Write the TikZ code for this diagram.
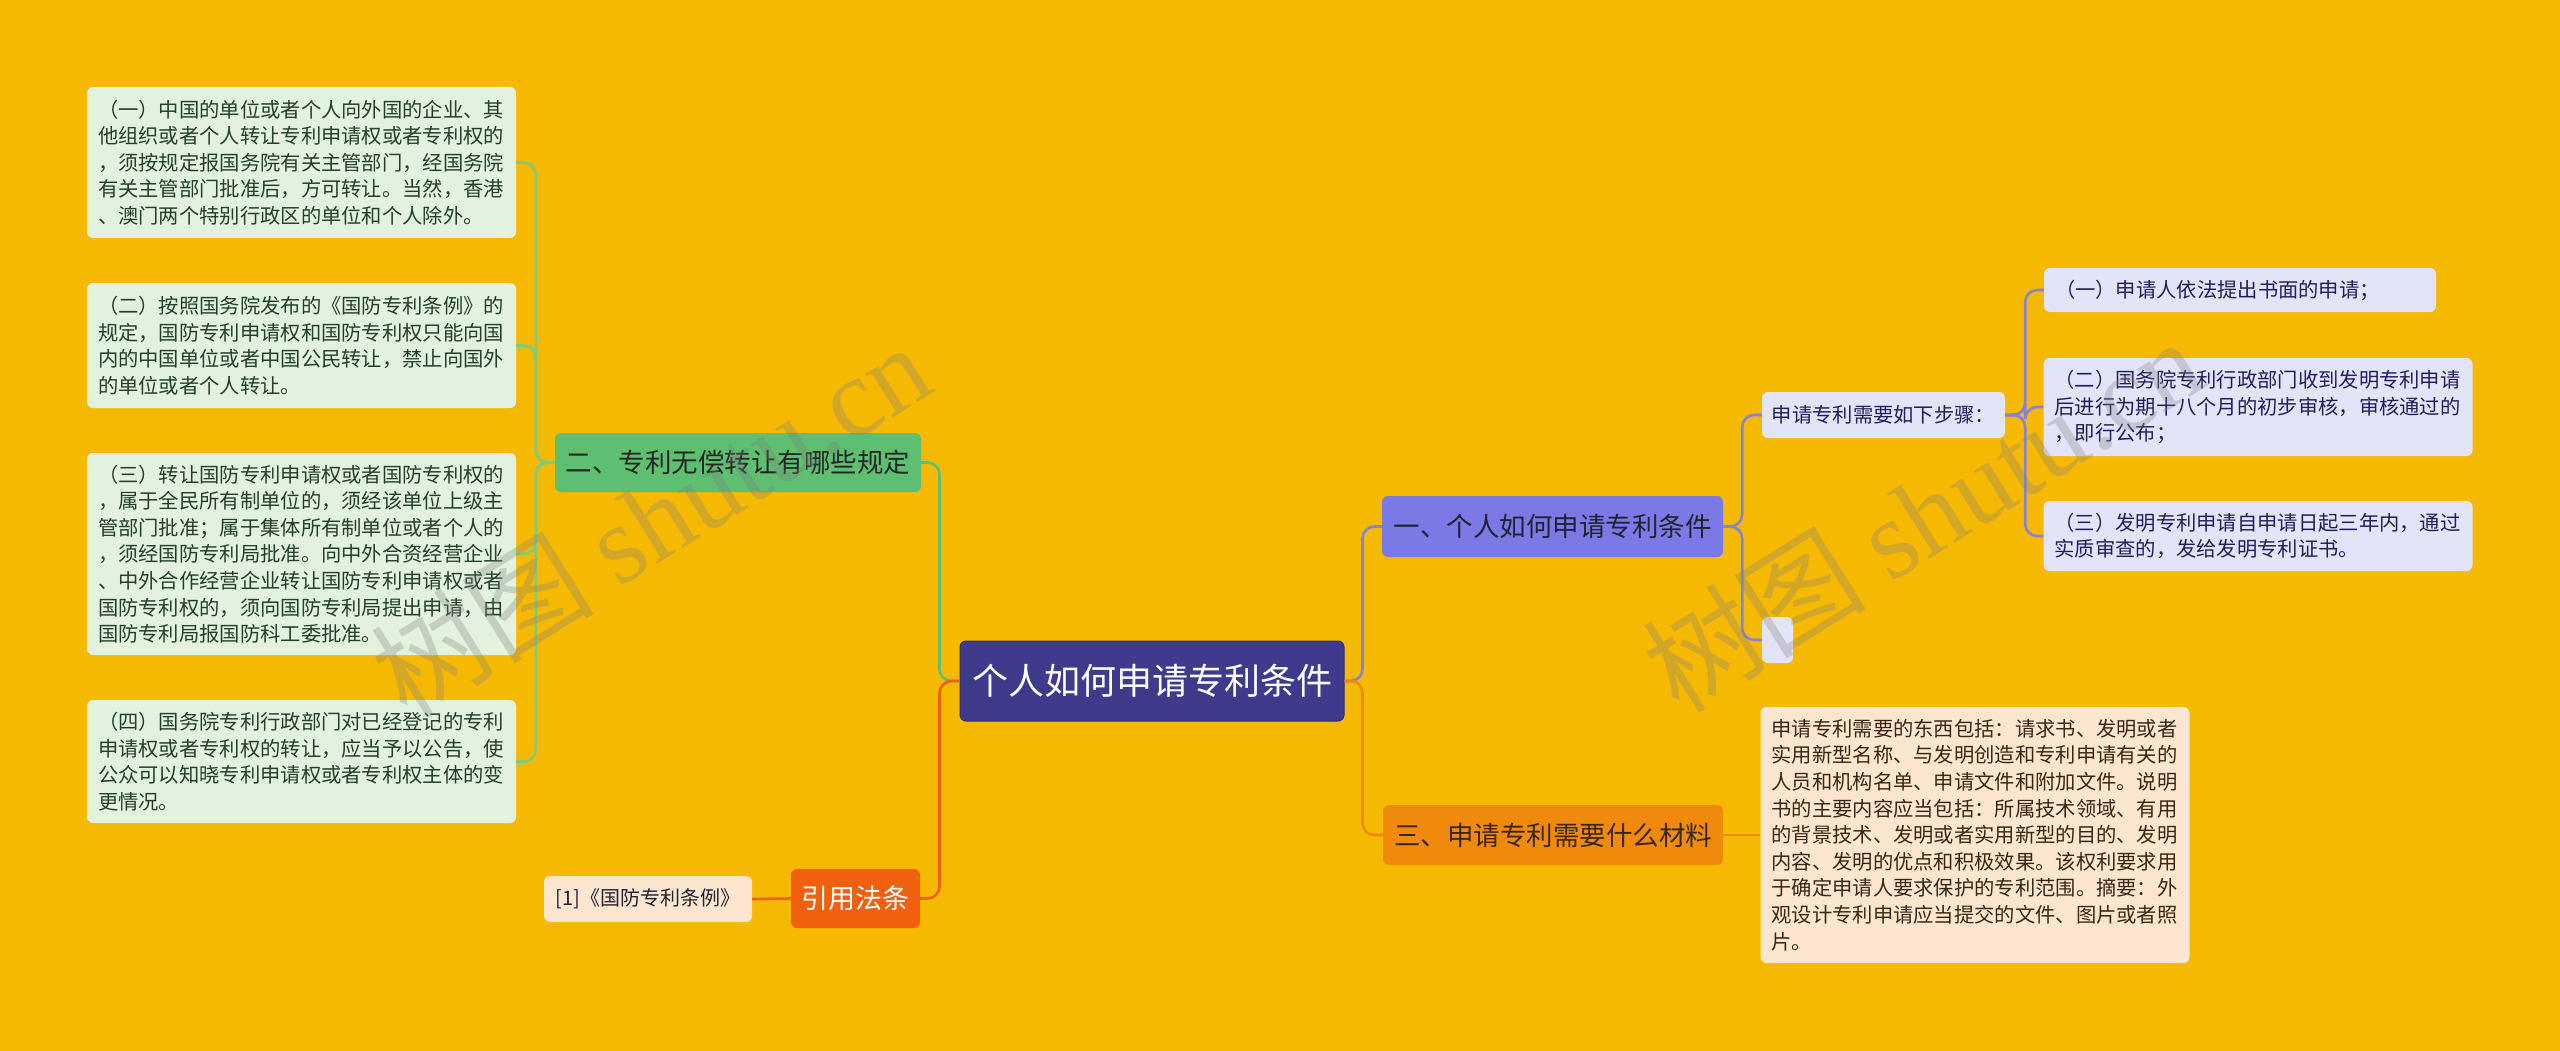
\documentclass[tikz,border=0pt]{standalone}
\usepackage{fontspec}
\setmainfont{Noto Sans CJK SC}
\newfontfamily\wmserif{Liberation Serif}
\definecolor{bg}{HTML}{F6B902}
\definecolor{rootfill}{HTML}{3E3A8C}
\definecolor{rootdraw}{HTML}{322E76}
\definecolor{purplefill}{HTML}{7A79E6}
\definecolor{greenfill}{HTML}{5DBF6F}
\definecolor{orangefill}{HTML}{F08A0C}
\definecolor{redfill}{HTML}{F1600E}
\definecolor{leafgreen}{HTML}{E2F2DE}
\definecolor{leafpurple}{HTML}{E4E4F8}
\definecolor{leafpeach}{HTML}{FDE6D0}
\definecolor{textgreen}{HTML}{23402A}
\definecolor{textnavy}{HTML}{1F1F5C}
\definecolor{textbrown}{HTML}{3A2614}
\definecolor{textdark}{HTML}{222233}
\definecolor{lgreen}{HTML}{7CCB7E}
\definecolor{lpurple}{HTML}{8583D6}
\tikzset{
  box/.style={rectangle, rounded corners=6pt, inner sep=0pt},
  title/.style={box, font=\fontsize{26.5}{30}\selectfont, text=textdark},
  leaf/.style={box, align=left, inner xsep=11pt, inner ysep=0pt, text width=407pt, minimum width=429pt, font=\fontsize{20.3}{26.6}\selectfont},
  leafG/.style={leaf, fill=leafgreen, text=textgreen},
  leafP/.style={leaf, fill=leafpurple, text=textnavy},
  leafO/.style={leaf, fill=leafpeach, text=textbrown},
  conn/.style={line width=2.6pt, rounded corners=12pt},
  cgreen/.style={conn, draw=greenfill},
  clgreen/.style={conn, draw=lgreen},
  cred/.style={conn, draw=redfill},
  corange/.style={conn, draw=orangefill},
  cpurple/.style={conn, draw=lpurple},
  wm/.style={rotate=32, text=gray, opacity=0.3, font=\fontsize{112}{112}\selectfont}
}
\begin{document}
\begin{tikzpicture}[x=1pt,y=-1pt]
\useasboundingbox (0,0) rectangle (2560,1051);
\fill[bg] (0,0) rectangle (2560,1051);

% root
\node[box, fill=rootfill, draw=rootdraw, line width=1pt, text=white, minimum width=384pt, minimum height=80pt, font=\fontsize{36}{40}\selectfont] (root) at (1152,681) {个人如何申请专利条件};

% main branches
\node[title, fill=purplefill, minimum width=341pt, minimum height=61pt] (b1) at (1552.5,526.5) {一、个人如何申请专利条件};
\node[title, fill=greenfill, minimum width=366pt, minimum height=59pt, text=black!85] (b2) at (738,462.5) {二、专利无偿转让有哪些规定};
\node[title, fill=orangefill, minimum width=340pt, minimum height=60pt, text=textbrown] (b3) at (1553,835) {三、申请专利需要什么材料};
\node[title, fill=redfill, minimum width=129pt, minimum height=59pt, text=white, font=\fontsize{27}{30}\selectfont] (ref) at (855.5,898.5) {引用法条};

% left leaves
\node[leafG, minimum height=151pt] (l1) at (301.5,162.5) {（一）中国的单位或者个人向外国的企业、其\\他组织或者个人转让专利申请权或者专利权的\\，须按规定报国务院有关主管部门，经国务院\\有关主管部门批准后，方可转让。当然，香港\\、澳门两个特别行政区的单位和个人除外。};
\node[leafG, minimum height=125pt] (l2) at (301.5,345.5) {（二）按照国务院发布的《国防专利条例》的\\规定，国防专利申请权和国防专利权只能向国\\内的中国单位或者中国公民转让，禁止向国外\\的单位或者个人转让。};
\node[leafG, minimum height=202pt] (l3) at (301.5,554) {（三）转让国防专利申请权或者国防专利权的\\，属于全民所有制单位的，须经该单位上级主\\管部门批准；属于集体所有制单位或者个人的\\，须经国防专利局批准。向中外合资经营企业\\、中外合作经营企业转让国防专利申请权或者\\国防专利权的，须向国防专利局提出申请，由\\国防专利局报国防科工委批准。};
\node[leafG, minimum height=123pt] (l4) at (301.5,761.5) {（四）国务院专利行政部门对已经登记的专利\\申请权或者专利权的转让，应当予以公告，使\\公众可以知晓专利申请权或者专利权主体的变\\更情况。};

% reference leaf
\node[box, fill=leafpeach, text=textdark, minimum width=208pt, minimum height=46pt, font=\fontsize{20}{24}\selectfont] (refleaf) at (648,899) {[1]《国防专利条例》};

% right side
\node[box, fill=leafpurple, text=textnavy, minimum width=243pt, minimum height=46pt, font=\fontsize{20.3}{24}\selectfont] (steps) at (1883.5,415) {申请专利需要如下步骤：};
\node[box, fill=leafpurple, minimum width=31pt, minimum height=46pt] (empty) at (1777.5,640) {};
\node[leafP, minimum width=392pt, text width=370pt, minimum height=44pt] (s1) at (2240,290) {（一）申请人依法提出书面的申请；};
\node[leafP, minimum height=98pt] (s2) at (2258,407) {（二）国务院专利行政部门收到发明专利申请\\后进行为期十八个月的初步审核，审核通过的\\，即行公布；};
\node[leafP, minimum height=70pt] (s3) at (2258,536) {（三）发明专利申请自申请日起三年内，通过\\实质审查的，发给发明专利证书。};
\node[leafO, minimum height=256pt] (mat) at (1975,835) {申请专利需要的东西包括：请求书、发明或者\\实用新型名称、与发明创造和专利申请有关的\\人员和机构名单、申请文件和附加文件。说明\\书的主要内容应当包括：所属技术领域、有用\\的背景技术、发明或者实用新型的目的、发明\\内容、发明的优点和积极效果。该权利要求用\\于确定申请人要求保护的专利范围。摘要：外\\观设计专利申请应当提交的文件、图片或者照\\片。};

% connectors
\draw[cgreen] (root.west) -- ++(-20,0) |- (b2.east);
\draw[cred] (root.west) -- ++(-20,0) |- (ref.east);
\draw[cpurple] (root.east) -- ++(18,0) |- (b1.west);
\draw[corange] (root.east) -- ++(18,0) |- (b3.west);
\draw[cred] (ref.west) -- (refleaf.east);
\draw[clgreen] (b2.west) -- ++(-19,0) |- (l1.east);
\draw[clgreen] (b2.west) -- ++(-19,0) |- (l2.east);
\draw[clgreen] (b2.west) -- ++(-19,0) |- (l3.east);
\draw[clgreen] (b2.west) -- ++(-19,0) |- (l4.east);
\draw[cpurple] (b1.east) -- ++(19,0) |- (steps.west);
\draw[cpurple] (b1.east) -- ++(19,0) |- (empty.west);
\draw[cpurple] (steps.east) -- ++(20,0) |- (s1.west);
\draw[cpurple] (steps.east) -- ++(20,0) |- (s2.west);
\draw[cpurple] (steps.east) -- ++(20,0) |- (s3.west);
\draw[corange] (b3.east) -- (mat.west);

% watermarks
\node[wm] (wm1) at (650,519) {树图 {\wmserif shutu.cn}};
\node[wm] (wm2) at (1922,514) {树图 {\wmserif shutu.cn}};
\end{tikzpicture}
\end{document}
